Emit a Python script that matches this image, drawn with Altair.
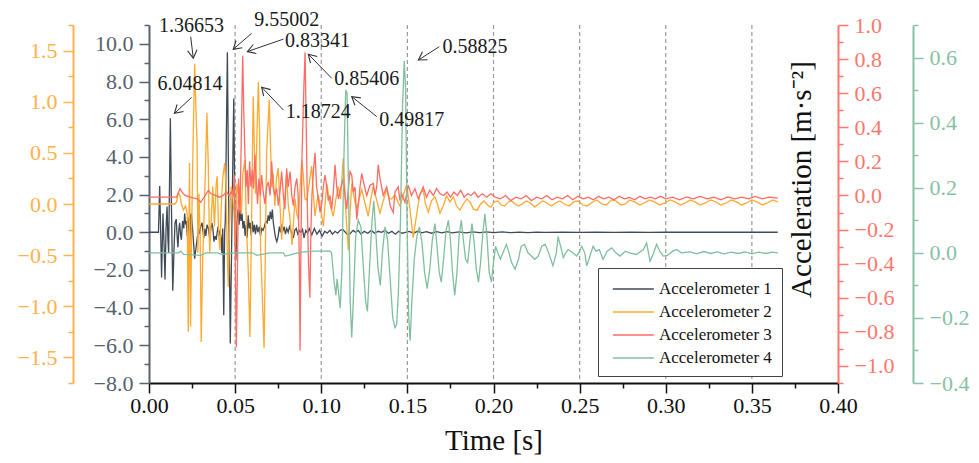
import math
import altair as alt
import pandas as pd

FONT = "Liberation Serif"
W, H = 689, 358
X_DOM = [0.0, 0.4]
Y1_DOM = [-8.0, 11.0]
Y2_DOM = [-1.75, 1.75]
Y3_DOM = [-1.1, 1.0]
Y4_DOM = [-0.4, 0.7]

series_names = ["Accelerometer 1", "Accelerometer 2", "Accelerometer 3", "Accelerometer 4"]
series_colors = ["#3e4a58", "#ffa92e", "#ff6b63", "#80bf9e"]
axis_colors = ["#56626f", "#ffb24a", "#ff766d", "#86c2a3"]

# (time [s], value) pairs
acc1 = [
    (0.0000, 0.00), (0.0055, 0.00), (0.0062, 2.45), (0.0069, -0.5), (0.0073, -2.4), (0.0081, 1.0),
    (0.0088, -0.8), (0.0093, -2.5), (0.0099, 0.2), (0.0105, 1.36), (0.0110, -0.4), (0.0114, -1.1),
    (0.0119, 2.5), (0.0124, 6.05), (0.0130, 1.5), (0.0138, -3.1), (0.0145, -1.0), (0.0151, 0.5),
    (0.0158, 0.7), (0.0164, -0.3), (0.0168, -0.8), (0.0174, 0.2), (0.0178, 0.5), (0.0183, -0.1),
    (0.0188, -0.4), (0.0195, 0.6), (0.0202, 0.2), (0.0207, 1.0), (0.0213, 0.4), (0.0217, 0.6),
    (0.0222, -0.2), (0.0226, 0.8), (0.0232, 0.1), (0.0236, -0.7), (0.0242, 0.9), (0.0246, 1.0),
    (0.0252, 0.3), (0.0259, -0.6), (0.0265, -1.4), (0.0272, -0.9), (0.0280, -0.3), (0.0288, 0.2),
    (0.0294, -0.1), (0.0300, 0.3), (0.0308, 0.5), (0.0313, 0.1), (0.0318, -0.3), (0.0324, 0.2),
    (0.0330, -0.2), (0.0337, 0.4), (0.0345, 0.2), (0.0352, -0.3), (0.0358, 0.1), (0.0365, 0.5),
    (0.0371, 0.2), (0.0377, -0.5), (0.0383, -0.2), (0.0390, -0.4), (0.0396, 0.0), (0.0401, 0.3),
    (0.0407, -0.2), (0.0412, 0.1), (0.0418, -0.3), (0.0423, -1.1), (0.0428, 0.2), (0.0434, -4.4),
    (0.0439, 0.0), (0.0443, 0.6), (0.0455, 9.55), (0.0463, 1.5), (0.0472, -5.9), (0.0480, -0.5),
    (0.0492, 7.1), (0.0499, 0.5), (0.0504, -1.5), (0.0510, 0.6), (0.0517, 1.2), (0.0523, 0.4),
    (0.0528, 1.2), (0.0534, 0.6), (0.0540, 1.0), (0.0546, 0.2), (0.0552, 0.6), (0.0558, -0.2),
    (0.0564, 0.4), (0.0570, -0.3), (0.0576, 0.9), (0.0582, 0.2), (0.0588, 0.5), (0.0594, -0.2),
    (0.0600, 0.6), (0.0606, 0.0), (0.0612, 0.4), (0.0618, -0.1), (0.0625, 0.4), (0.0632, 0.0),
    (0.0640, 0.3), (0.0647, -0.2), (0.0655, 0.2), (0.0662, 0.1), (0.0670, 0.3), (0.0678, 0.6),
    (0.0686, 0.5), (0.0692, 0.9), (0.0698, 0.6), (0.0704, 1.1), (0.0710, 0.7), (0.0716, 1.2),
    (0.0722, 0.5), (0.0728, 0.1), (0.0735, -0.3), (0.0742, -0.5), (0.0750, -0.2), (0.0757, 0.3),
    (0.0764, 0.0), (0.0771, 0.4), (0.0778, 0.1), (0.0785, 0.3), (0.0792, -0.1), (0.0800, 0.2),
    (0.0808, 0.0), (0.0816, 0.3), (0.0823, 0.1), (0.0832, -0.1), (0.0838, -0.3), (0.0846, 0.1),
    (0.0855, 0.2), (0.0864, -0.1), (0.0873, 0.1), (0.0882, 0.0), (0.0891, 0.15), (0.0900, -0.3),
    (0.0910, 0.1), (0.0920, -0.05), (0.0930, 0.2), (0.0945, -0.15), (0.0960, 0.2), (0.0975, -0.1),
    (0.0990, 0.1), (0.1005, -0.2), (0.1020, 0.05), (0.1035, -0.05), (0.1050, 0.1), (0.1065, -0.1),
    (0.1080, 0.05), (0.1095, -0.05), (0.1110, 0.1), (0.1125, 0.15), (0.1140, 0.0), (0.1155, -0.15),
    (0.1170, -0.05), (0.1185, 0.1), (0.1200, 0.0), (0.1215, 0.1), (0.1230, -0.1), (0.1250, 0.05),
    (0.1270, -0.05), (0.1290, 0.1), (0.1310, -0.05), (0.1330, 0.05), (0.1350, 0.0), (0.1370, 0.1),
    (0.1390, -0.05), (0.1410, 0.05), (0.1430, -0.1), (0.1450, 0.05), (0.1470, -0.05), (0.1490, 0.0),
    (0.1510, 0.05), (0.1535, -0.05), (0.1560, 0.05), (0.1585, -0.03), (0.1610, 0.03), (0.1640, -0.05),
    (0.1670, 0.03), (0.1700, -0.03), (0.1730, 0.03), (0.1760, -0.03), (0.1800, 0.02), (0.1840, -0.03),
    (0.1880, 0.02), (0.1920, -0.02), (0.1960, 0.02), (0.2000, -0.02), (0.2050, 0.02), (0.2100, -0.02),
    (0.2150, 0.01), (0.2200, -0.02), (0.2250, 0.01), (0.2300, -0.01), (0.2400, 0.01), (0.2500, -0.01),
    (0.2600, 0.01), (0.2700, -0.01), (0.2800, 0.01), (0.2900, -0.01), (0.3000, 0.0), (0.3200, 0.0),
    (0.3400, 0.0), (0.3650, 0.0),
]

acc2 = [
    (0.0000, 0.00), (0.0150, 0.00), (0.0160, 0.02), (0.0170, 0.11), (0.0180, 0.08), (0.0188, 0.00),
    (0.0200, -0.06), (0.0212, -0.02), (0.0222, -0.1), (0.0228, -1.25), (0.0235, 0.4), (0.0241, -1.2),
    (0.0248, -0.2), (0.0256, 0.6), (0.0265, 1.37), (0.0272, 0.95), (0.0279, 0.6), (0.0284, -0.48),
    (0.0290, 0.1), (0.0297, -0.3), (0.0303, -1.35), (0.0311, -0.6), (0.0319, -0.15), (0.0327, 0.3),
    (0.0336, 0.89), (0.0344, 0.4), (0.0352, -0.48), (0.0360, -0.2), (0.0370, 0.17), (0.0380, -0.22),
    (0.0390, 0.2), (0.0396, 0.27), (0.0405, -0.32), (0.0412, -0.45), (0.0420, 0.0), (0.0428, 0.25),
    (0.0439, 0.4), (0.0446, 0.2), (0.0455, -0.5), (0.0460, -0.81), (0.0468, -0.2), (0.0477, 0.17),
    (0.0485, 0.1), (0.0494, -0.1), (0.0502, -0.4), (0.0510, 0.2), (0.0518, 0.1), (0.0528, 0.17),
    (0.0536, -0.1), (0.0545, 0.3), (0.0557, 0.43), (0.0565, -0.2), (0.0576, -0.64), (0.0586, -1.3),
    (0.0595, -0.2), (0.0605, 1.05), (0.0612, 0.5), (0.0618, 0.1), (0.0627, 0.7), (0.0635, 1.19),
    (0.0642, 0.7), (0.0648, -0.45), (0.0656, -0.8), (0.0668, -1.41), (0.0676, -0.4), (0.0683, 0.5),
    (0.0698, 1.02), (0.0705, 0.6), (0.0712, 0.17), (0.0720, 0.3), (0.0731, -0.02), (0.0740, 0.25),
    (0.0750, 0.35), (0.0760, 0.0), (0.0770, -0.35), (0.0780, -0.1), (0.0790, 0.1), (0.0799, 0.3),
    (0.0808, 0.0), (0.0819, -0.15), (0.0830, -0.4), (0.0838, -0.2), (0.0848, 0.05), (0.0858, -0.1),
    (0.0867, -0.15), (0.0877, 0.15), (0.0887, 0.43), (0.0895, 0.3), (0.0905, 0.05), (0.0916, 0.04),
    (0.0930, 0.2), (0.0944, 0.37), (0.0954, 0.1), (0.0964, -0.12), (0.0973, 0.0), (0.0983, 0.09),
    (0.0997, -0.05), (0.1012, -0.22), (0.1022, 0.0), (0.1032, 0.2), (0.1050, 0.0), (0.1070, -0.12),
    (0.1085, 0.05), (0.1099, 0.17), (0.1112, 0.05), (0.1128, 0.45), (0.1140, 0.0), (0.1157, -0.45),
    (0.1167, -0.1), (0.1177, 0.2), (0.1192, 0.05), (0.1206, -0.05), (0.1220, 0.05), (0.1235, 0.14),
    (0.1255, 0.0), (0.1273, -0.12), (0.1288, 0.05), (0.1302, 0.17), (0.1320, 0.05), (0.1341, -0.09),
    (0.1360, 0.03), (0.1380, 0.14), (0.1395, 0.05), (0.1409, 0.05), (0.1428, 0.09), (0.1445, 0.02),
    (0.1457, -0.02), (0.1475, 0.08), (0.1496, 0.19), (0.1515, -0.05), (0.1534, -0.33), (0.1554, -0.1),
    (0.1573, 0.1), (0.1592, 0.14), (0.1605, 0.0), (0.1622, -0.08), (0.1640, 0.03), (0.1660, 0.07),
    (0.1675, 0.0), (0.1689, -0.09), (0.1708, -0.02), (0.1728, 0.08), (0.1747, 0.02), (0.1767, 0.07),
    (0.1786, -0.02), (0.1805, -0.06), (0.1825, 0.0), (0.1845, 0.05), (0.1864, 0.02), (0.1883, -0.05),
    (0.1905, -0.06), (0.1925, 0.0), (0.1945, 0.03), (0.1965, -0.01), (0.1985, -0.03), (0.2005, 0.02),
    (0.2025, 0.03), (0.2045, -0.01), (0.2065, -0.02), (0.2085, 0.02), (0.2105, 0.03), (0.2125, 0.0),
    (0.2145, -0.02), (0.2165, 0.0), (0.2190, 0.03), (0.2215, 0.01), (0.2240, -0.03), (0.2260, 0.0),
    (0.2285, 0.03), (0.2310, 0.01), (0.2335, -0.02), (0.2360, 0.01), (0.2385, 0.03), (0.2410, 0.0),
    (0.2440, -0.02), (0.2465, 0.02), (0.2490, 0.03), (0.2520, -0.01), (0.2545, -0.02), (0.2575, 0.02),
    (0.2600, 0.04), (0.2630, 0.0), (0.2655, -0.01), (0.2685, 0.04), (0.2710, 0.03), (0.2740, -0.01),
    (0.2765, 0.0), (0.2790, 0.04), (0.2820, 0.02), (0.2850, -0.01), (0.2875, 0.01), (0.2905, 0.04),
    (0.2935, 0.02), (0.2965, -0.01), (0.2995, 0.01), (0.3025, 0.04), (0.3055, 0.02), (0.3085, -0.01),
    (0.3115, 0.01), (0.3140, 0.04), (0.3170, 0.02), (0.3200, -0.01), (0.3230, 0.01), (0.3260, 0.04),
    (0.3290, 0.02), (0.3320, -0.01), (0.3350, 0.01), (0.3380, 0.04), (0.3410, 0.02), (0.3440, -0.01),
    (0.3470, 0.01), (0.3500, 0.04), (0.3530, 0.02), (0.3560, -0.01), (0.3590, 0.01), (0.3620, 0.04),
    (0.3650, 0.02),
]

acc3 = [
    (0.0000, -0.01), (0.0160, -0.01), (0.0172, 0.02), (0.0180, 0.04), (0.0192, 0.02), (0.0210, 0.0),
    (0.0240, -0.01), (0.0280, -0.02), (0.0300, -0.04), (0.0320, -0.01), (0.0345, 0.03), (0.0360, 0.01),
    (0.0385, 0.0), (0.0410, -0.01), (0.0430, 0.0), (0.0450, 0.02), (0.0465, 0.0), (0.0478, 0.02),
    (0.0488, 0.0), (0.0495, 0.12), (0.0500, -0.3), (0.0507, -0.89), (0.0514, -0.4), (0.0520, 0.1),
    (0.0528, -0.1), (0.0536, 0.35), (0.0544, 0.82), (0.0550, 0.5), (0.0557, 0.24), (0.0563, 0.05),
    (0.0570, 0.15), (0.0577, -0.05), (0.0584, 0.2), (0.0592, 0.05), (0.0600, 0.15), (0.0606, 0.04),
    (0.0615, 0.24), (0.0622, 0.1), (0.0630, -0.05), (0.0638, 0.1), (0.0646, 0.0), (0.0654, 0.12),
    (0.0662, 0.03), (0.0673, -0.05), (0.0683, 0.05), (0.0693, 0.08), (0.0703, 0.0), (0.0712, 0.2),
    (0.0721, 0.05), (0.0730, 0.0), (0.0741, 0.04), (0.0751, -0.06), (0.0760, 0.02), (0.0770, 0.14),
    (0.0780, 0.0), (0.0789, -0.08), (0.0799, 0.16), (0.0808, 0.05), (0.0819, 0.14), (0.0829, 0.0),
    (0.0838, -0.06), (0.0848, 0.05), (0.0858, 0.1), (0.0866, 0.0), (0.0873, -0.4), (0.0877, -0.91),
    (0.0882, -0.3), (0.0888, 0.21), (0.0898, 0.6), (0.0906, 0.84), (0.0913, 0.4), (0.0920, -0.1),
    (0.0926, -0.4), (0.0934, -0.6), (0.0940, -0.2), (0.0946, 0.0), (0.0955, 0.15), (0.0964, 0.25),
    (0.0973, 0.05), (0.0983, -0.02), (0.0993, -0.1), (0.1003, -0.05), (0.1012, 0.05), (0.1022, 0.12),
    (0.1032, 0.05), (0.1041, -0.03), (0.1051, 0.0), (0.1061, -0.08), (0.1070, 0.02), (0.1080, 0.18),
    (0.1090, 0.05), (0.1099, -0.02), (0.1110, 0.03), (0.1120, 0.07), (0.1128, 0.1), (0.1138, 0.0),
    (0.1148, -0.08), (0.1158, 0.05), (0.1167, 0.14), (0.1177, 0.12), (0.1186, 0.02), (0.1196, 0.05),
    (0.1206, -0.14), (0.1216, -0.05), (0.1225, 0.05), (0.1235, 0.13), (0.1245, 0.08), (0.1264, 0.0),
    (0.1283, 0.06), (0.1302, 0.07), (0.1312, 0.0), (0.1322, 0.05), (0.1331, 0.18), (0.1341, 0.1),
    (0.1360, 0.0), (0.1380, 0.05), (0.1390, 0.0), (0.1400, -0.06), (0.1418, -0.1), (0.1428, 0.02),
    (0.1447, 0.05), (0.1457, -0.03), (0.1467, 0.01), (0.1486, -0.04), (0.1505, 0.06), (0.1524, 0.0),
    (0.1544, 0.04), (0.1563, -0.02), (0.1592, 0.05), (0.1611, -0.01), (0.1630, 0.03), (0.1650, 0.0),
    (0.1670, 0.04), (0.1690, 0.01), (0.1710, 0.0), (0.1730, 0.02), (0.1750, -0.01), (0.1770, 0.02),
    (0.1790, 0.0), (0.1810, 0.03), (0.1830, -0.01), (0.1850, 0.01), (0.1870, 0.0), (0.1890, 0.02),
    (0.1910, -0.01), (0.1935, 0.01), (0.1960, -0.01), (0.1985, 0.01), (0.2010, -0.01), (0.2040, -0.02),
    (0.2070, 0.0), (0.2100, -0.03), (0.2130, -0.01), (0.2160, -0.02), (0.2190, 0.0), (0.2220, -0.03),
    (0.2250, -0.01), (0.2280, -0.02), (0.2310, 0.0), (0.2340, -0.025), (0.2370, -0.01), (0.2400, -0.02),
    (0.2430, 0.0), (0.2460, -0.025), (0.2490, -0.005), (0.2520, -0.02), (0.2550, -0.01), (0.2580, -0.025),
    (0.2610, -0.005), (0.2640, -0.02), (0.2670, -0.01), (0.2700, -0.025), (0.2730, -0.005), (0.2760, -0.02),
    (0.2790, -0.012), (0.2820, -0.025), (0.2850, -0.005), (0.2880, -0.02), (0.2910, -0.01), (0.2940, -0.02),
    (0.2970, -0.005), (0.3000, -0.02), (0.3040, -0.01), (0.3080, -0.025), (0.3120, -0.008), (0.3160, -0.02),
    (0.3200, -0.005), (0.3240, -0.02), (0.3280, -0.01), (0.3320, -0.025), (0.3360, -0.008), (0.3400, -0.02),
    (0.3440, -0.01), (0.3480, -0.02), (0.3520, -0.005), (0.3560, -0.02), (0.3600, -0.01), (0.3650, -0.015),
]

acc4 = [
    (0.0000, 0.0), (0.0170, 0.0), (0.0185, 0.005), (0.0200, -0.005), (0.0300, -0.008), (0.0330, 0.0),
    (0.0400, 0.0), (0.0420, -0.005), (0.0500, 0.0), (0.0600, 0.0), (0.0625, -0.008), (0.0700, 0.0),
    (0.0780, 0.0), (0.0790, -0.01), (0.0810, -0.008), (0.0860, 0.0), (0.0900, 0.003), (0.0960, 0.005),
    (0.1010, 0.005), (0.1050, 0.006), (0.1060, 0.0), (0.1075, -0.09), (0.1085, -0.13), (0.1092, -0.08),
    (0.1100, -0.12), (0.1110, -0.17), (0.1120, -0.05), (0.1132, 0.3), (0.1142, 0.5), (0.1150, 0.49),
    (0.1158, 0.2), (0.1168, -0.15), (0.1177, -0.26), (0.1186, -0.15), (0.1200, 0.05), (0.1215, 0.1),
    (0.1230, 0.08), (0.1245, -0.05), (0.1258, -0.15), (0.1268, -0.18), (0.1280, -0.05), (0.1295, 0.1),
    (0.1305, 0.16), (0.1318, 0.05), (0.1330, -0.05), (0.1343, -0.10), (0.1355, 0.0), (0.1370, 0.08),
    (0.1385, 0.04), (0.1400, -0.08), (0.1415, -0.2), (0.1428, -0.23), (0.1438, -0.22), (0.1448, -0.12),
    (0.1460, 0.1), (0.1472, 0.45), (0.1482, 0.59), (0.1490, 0.5), (0.1498, 0.1), (0.1508, -0.2),
    (0.1516, -0.27), (0.1526, -0.15), (0.1540, -0.02), (0.1555, 0.05), (0.1570, 0.08), (0.1585, 0.03),
    (0.1600, -0.06), (0.1615, -0.11), (0.1630, -0.05), (0.1645, 0.04), (0.1660, 0.09), (0.1672, 0.02),
    (0.1685, -0.06), (0.1697, -0.09), (0.1710, -0.02), (0.1725, 0.07), (0.1738, 0.10), (0.1750, 0.04),
    (0.1762, -0.06), (0.1775, -0.13), (0.1788, -0.06), (0.1800, 0.05), (0.1813, 0.10), (0.1825, 0.04),
    (0.1838, -0.02), (0.1850, -0.03), (0.1862, 0.03), (0.1875, 0.09), (0.1888, 0.03), (0.1900, -0.05),
    (0.1913, -0.09), (0.1925, -0.03), (0.1938, 0.06), (0.1950, 0.12), (0.1962, 0.05), (0.1975, -0.06),
    (0.1988, -0.09), (0.2000, -0.03), (0.2012, 0.02), (0.2025, 0.0), (0.2040, -0.02), (0.2055, 0.0),
    (0.2075, 0.026), (0.2090, 0.0), (0.2105, -0.03), (0.2125, -0.05), (0.2145, -0.02), (0.2160, 0.02),
    (0.2180, 0.026), (0.2200, 0.0), (0.2220, -0.01), (0.2240, -0.02), (0.2260, -0.01), (0.2280, 0.02),
    (0.2300, 0.026), (0.2320, 0.0), (0.2345, -0.04), (0.2365, 0.0), (0.2375, 0.05), (0.2390, 0.02),
    (0.2405, -0.015), (0.2420, 0.0), (0.2433, 0.01), (0.2460, 0.0), (0.2483, -0.01), (0.2500, 0.005),
    (0.2512, 0.02), (0.2530, 0.0), (0.2541, -0.04), (0.2560, -0.01), (0.2578, 0.02), (0.2595, 0.005),
    (0.2615, 0.01), (0.2636, -0.02), (0.2660, 0.005), (0.2686, 0.015), (0.2710, 0.0), (0.2734, -0.01),
    (0.2765, 0.005), (0.2790, 0.0), (0.2830, -0.005), (0.2870, 0.01), (0.2889, 0.03), (0.2909, -0.026),
    (0.2930, 0.0), (0.2947, 0.026), (0.2965, 0.005), (0.2985, -0.01), (0.3010, -0.008), (0.3040, 0.005),
    (0.3064, 0.01), (0.3090, 0.0), (0.3140, 0.003), (0.3180, -0.003), (0.3220, 0.004), (0.3260, -0.002),
    (0.3300, 0.003), (0.3340, -0.003), (0.3380, 0.002), (0.3420, -0.002), (0.3460, 0.003), (0.3500, -0.003),
    (0.3540, 0.002), (0.3580, -0.002), (0.3620, 0.002), (0.3650, 0.0),
]

# annotations: label, text centre (t, value on left dark axis), arrow start, arrow end
ann_labels = ["6.04814", "1.36653", "9.55002", "0.83341", "0.85406", "1.18724", "0.49817", "0.58825"]
ann_tx = [0.0238, 0.0247, 0.0800, 0.0978, 0.1264, 0.0983, 0.1525, 0.1893]
ann_ty = [7.87, 10.96, 11.27, 10.15, 8.13, 6.36, 5.96, 9.83]
arr_x0 = [0.0248, 0.0242, 0.0596, 0.0780, 0.1061, 0.0780, 0.1322, 0.1685]
arr_y0 = [7.16, 10.38, 10.56, 10.25, 8.17, 6.49, 6.14, 9.85]
arr_x1 = [0.0148, 0.0257, 0.0489, 0.0571, 0.0925, 0.0654, 0.1177, 0.1564]
arr_y1 = [6.31, 9.24, 9.71, 9.59, 9.45, 7.70, 7.20, 9.14]

grid_t = [0.05, 0.10, 0.15, 0.20, 0.25, 0.30, 0.35]

x_major = [0.0, 0.05, 0.10, 0.15, 0.20, 0.25, 0.30, 0.35, 0.40]
x_minor = [0.025, 0.075, 0.125, 0.175, 0.225, 0.275, 0.325, 0.375]
y1_major = [-8, -6, -4, -2, 0, 2, 4, 6, 8, 10]
y1_minor = [-7, -5, -3, -1, 1, 3, 5, 7, 9, 11]
y2_major = [-1.5, -1.0, -0.5, 0.0, 0.5, 1.0, 1.5]
y2_minor = [-1.75, -1.25, -0.75, -0.25, 0.25, 0.75, 1.25, 1.75]
y3_major = [-1.0, -0.8, -0.6, -0.4, -0.2, 0.0, 0.2, 0.4, 0.6, 0.8, 1.0]
y3_minor = [-1.1, -0.9, -0.7, -0.5, -0.3, -0.1, 0.1, 0.3, 0.5, 0.7, 0.9]
y4_major = [-0.4, -0.2, 0.0, 0.2, 0.4, 0.6]
y4_minor = [-0.3, -0.1, 0.1, 0.3, 0.5, 0.7]

# ---------------------------------------------------------------- data frames
rows = []
for name, pts in zip(series_names, [acc1, acc2, acc3, acc4]):
    for t, v in pts:
        rows.append({"series": name, "t": t, "v": v})
df_lines = pd.DataFrame(rows)

px_x = W / (X_DOM[1] - X_DOM[0])
px_y = H / (Y1_DOM[1] - Y1_DOM[0])
angles = []
for a, b, c, d in zip(arr_x0, arr_y0, arr_x1, arr_y1):
    dx = (c - a) * px_x
    dy = -(d - b) * px_y
    angles.append(math.degrees(math.atan2(dy, dx)) % 360)
df_ann = pd.DataFrame({
    "label": ann_labels, "tx": ann_tx, "ty": ann_ty,
    "x0": arr_x0, "y0": arr_y0, "x1": arr_x1, "y1": arr_y1, "ang": angles,
})
df_grid = pd.DataFrame({"t": grid_t})
df_dummy = pd.DataFrame({"t": [0.2], "v": [0.0]})

xscale = alt.Scale(domain=X_DOM, nice=False, zero=False)


def yscale(dom):
    return alt.Scale(domain=dom, nice=False, zero=False)


def major_axis(orient, offset, values, color, fmt, **kw):
    return alt.Axis(orient=orient, offset=offset, values=values, format=fmt,
                    tickSize=10, tickWidth=1.5, tickColor=color,
                    domainColor=color, domainWidth=2,
                    labelColor=color, labelFont=FONT, labelFontSize=22,
                    labelPadding=6, labelOverlap=False, labelFlush=False,
                    grid=False, **kw)


def minor_axis(orient, offset, values, color):
    return alt.Axis(orient=orient, offset=offset, values=values,
                    tickSize=5, tickWidth=1.5, tickColor=color,
                    domain=False, labels=False, grid=False)


legend = alt.Legend(orient="none", legendX=449, legendY=243, title=None,
                    strokeColor="#444444", fillColor="white", padding=10,
                    labelFont=FONT, labelFontSize=17, labelColor="#111111",
                    symbolType="M-0.6,0H3.4", symbolSize=420, symbolStrokeWidth=1.5,
                    rowPadding=4, labelOffset=29, labelLimit=0)
color_enc = alt.Color("series:N", scale=alt.Scale(domain=series_names, range=series_colors),
                      legend=legend)

grid = alt.Chart(df_grid).mark_rule(color="#9a9a9a", strokeWidth=1.2, strokeDash=[4, 3]).encode(
    x=alt.X("t:Q", scale=xscale, axis=None)
)

x_main_axis = alt.Axis(values=x_major, format=".2f", tickSize=10, tickWidth=1.5,
                       tickColor="#111111", domainColor="#111111", domainWidth=2,
                       labelColor="#111111", labelFont=FONT, labelFontSize=22,
                       labelPadding=2, labelFlush=False, labelOverlap=False, grid=False,
                       title="Time [s]", titleFont=FONT, titleFontSize=29,
                       titleFontWeight="normal", titleColor="#111111", titlePadding=10)


def line_layer(name, ydom, yaxis, xaxis):
    return alt.Chart(df_lines).transform_filter(alt.datum.series == name).mark_line(
        strokeWidth=1.3, clip=True
    ).encode(
        x=alt.X("t:Q", scale=xscale, axis=xaxis),
        y=alt.Y("v:Q", scale=yscale(ydom), axis=yaxis, title=None),
        color=color_enc,
    )


l1 = line_layer(series_names[0], Y1_DOM,
                major_axis("left", 0, y1_major, axis_colors[0], ".1f"), x_main_axis)
l2 = line_layer(series_names[1], Y2_DOM,
                major_axis("left", 76, y2_major, axis_colors[1], ".1f"), None)
l3 = line_layer(series_names[2], Y3_DOM,
                major_axis("right", 0, y3_major, axis_colors[2], ".1f",
                           title="Acceleration [m·s⁻²]", titleX=-37, titleY=154,
                           titleAngle=270, titleAlign="center", titleBaseline="middle",
                           titleFont=FONT, titleFontSize=29, titleFontWeight="normal",
                           titleColor="#111111"), None)
l4 = line_layer(series_names[3], Y4_DOM,
                major_axis("right", 75, y4_major, axis_colors[3], ".1f"), None)

arrows = alt.Chart(df_ann).mark_rule(color="#333333", strokeWidth=1).encode(
    x=alt.X("x0:Q", scale=xscale, axis=None),
    y=alt.Y("y0:Q", scale=yscale(Y1_DOM), axis=None),
    x2="x1:Q", y2="y1:Q",
)
heads = alt.Chart(df_ann).mark_point(
    shape="M-1,-0.6L0,0L-1,0.6", filled=False, size=250, strokeWidth=1.1,
    color="#333333", opacity=1,
).encode(
    x=alt.X("x1:Q", scale=xscale, axis=None),
    y=alt.Y("y1:Q", scale=yscale(Y1_DOM), axis=None),
    angle=alt.Angle("ang:Q", scale=None),
)
texts = alt.Chart(df_ann).mark_text(font=FONT, fontSize=20, color="#1a1a1a",
                                    align="center", baseline="middle").encode(
    x=alt.X("tx:Q", scale=xscale, axis=None),
    y=alt.Y("ty:Q", scale=yscale(Y1_DOM), axis=None),
    text="label:N",
)

mA = alt.Chart(df_dummy).mark_point(opacity=0).encode(
    x=alt.X("t:Q", scale=xscale, axis=minor_axis("bottom", 0, x_minor, "#111111"), title=None),
    y=alt.Y("v:Q", scale=yscale(Y1_DOM), axis=minor_axis("left", 0, y1_minor, axis_colors[0]), title=None),
)
mB = alt.Chart(df_dummy).mark_point(opacity=0).encode(
    y=alt.Y("v:Q", scale=yscale(Y2_DOM), axis=minor_axis("left", 76, y2_minor, axis_colors[1]), title=None),
)
mC = alt.Chart(df_dummy).mark_point(opacity=0).encode(
    y=alt.Y("v:Q", scale=yscale(Y3_DOM), axis=minor_axis("right", 0, y3_minor, axis_colors[2]), title=None),
)
mD = alt.Chart(df_dummy).mark_point(opacity=0).encode(
    y=alt.Y("v:Q", scale=yscale(Y4_DOM), axis=minor_axis("right", 75, y4_minor, axis_colors[3]), title=None),
)

chart = alt.layer(grid, l1, l2, l3, l4, arrows, heads, texts, mA, mB, mC, mD).resolve_scale(
    y="independent"
).resolve_axis(
    x="independent"
).properties(
    width=W, height=H,
    autosize=alt.AutoSizeParams(type="none"),
    padding={"left": 141, "top": 17, "right": 133, "bottom": 72},
).configure_view(stroke=None)

chart.save("out.html", embed_options={"renderer": "svg", "actions": False})
